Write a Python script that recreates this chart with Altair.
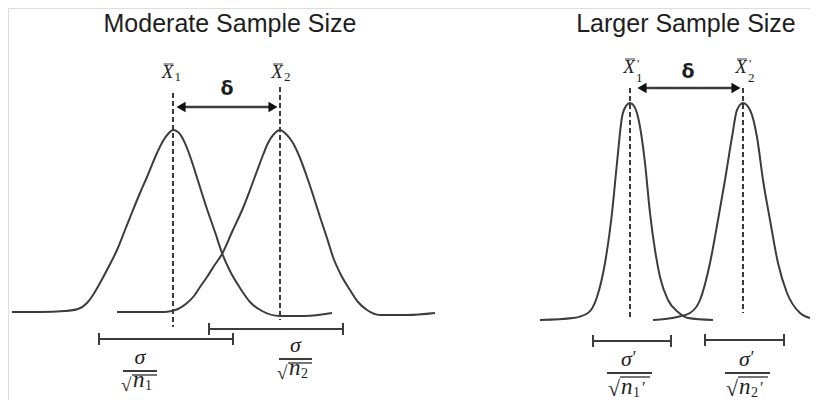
import altair as alt
import pandas as pd

# ---- curve points (pixel-like coordinates, y down) ----
L1_x = [12, 40, 65, 78, 87, 93, 100, 108, 117, 125, 133, 140, 147, 157, 163, 168, 173,
        178, 183, 187, 191, 199, 207, 215, 222, 230, 240, 250, 262, 280, 305, 332]
L1_y = [312, 312, 311, 309, 303, 295, 283, 268, 250, 230, 210, 193, 177, 153, 141, 134, 130,
        132, 139, 148, 159, 184, 209, 232, 253, 271, 288, 302, 311, 316, 316, 313]
L2_x = [117, 145, 165, 178, 187, 194, 200, 207, 214, 222, 232, 243, 250, 257, 263, 268, 274, 280,
        286, 293, 300, 307, 314, 320, 327, 333, 341, 350, 358, 367, 380, 407, 435]
L2_y = [312, 312, 312, 309, 303, 296, 287, 277, 266, 254, 232, 208, 190, 171, 155, 143, 134, 130,
        134, 143, 158, 177, 198, 217, 238, 257, 275, 290, 302, 310, 315, 315, 313]
R1_x = [540, 573, 588, 597, 605, 612, 617, 622, 626, 630, 634, 638, 645, 650, 655, 660, 668, 678, 688, 713]
R1_y = [320, 318, 313, 297, 263, 213, 163, 117, 106, 103, 106, 117, 163, 213, 250, 277, 300, 312, 318, 320]
R2_x = [653, 677, 690, 700, 710, 718, 725, 732, 737, 743, 750, 757, 763, 770, 778, 787, 800, 810]
R2_y = [320, 317, 313, 300, 263, 220, 180, 137, 110, 103, 110, 137, 180, 220, 263, 293, 313, 318]

# ---- dashed mean lines: x, y_top, y_bottom ----
mean_x = [173, 280, 630, 743]
mean_top = [93, 87, 88, 88]
mean_bot = [327, 320, 320, 313]

# ---- delta arrows: y, x_start, x_end ----
arrow_y = [107, 88]
arrow_x1 = [176, 637]
arrow_x2 = [278, 741]

# ---- standard error bars: y, x_start, x_end ----
bar_y = [339, 329, 341, 340]
bar_x1 = [99, 209, 593, 705]
bar_x2 = [233, 343, 671, 784]

# ---- fraction labels: centre x, fraction-line y, half width ----
frac_cx = [140, 295.5, 629.5, 747.5]
frac_y = [371, 359, 373, 373]
frac_hw = [17, 16.5, 22.5, 22.5]
frac_prime = [False, False, True, True]
frac_sub = ["1", "2", "1", "2"]

# ---- mean labels ----
mean_lab_x = [167.5, 277, 629, 741]
mean_lab_y = [78, 78, 73, 73]
mean_lab_prime = [False, False, True, True]
mean_lab_sub = ["1", "2", "1", "2"]

titles = ["Moderate Sample Size", "Larger Sample Size"]
title_x = [230, 686]
title_y = [32, 32]
delta_x = [227, 688]
delta_y = [95, 78]

INK = "#3c3c3c"
TXT = "#1e1e1e"

xs = alt.Scale(domain=[8, 810])
ys = alt.Scale(domain=[8, 400], reverse=True)


def X(f="x"):
    return alt.X(f, type="quantitative", scale=xs, axis=None)


def Y(f="y"):
    return alt.Y(f, type="quantitative", scale=ys, axis=None)


# curves
rows = []
for name, cx, cy in [("L1", L1_x, L1_y), ("L2", L2_x, L2_y), ("R1", R1_x, R1_y), ("R2", R2_x, R2_y)]:
    for i, (a, b) in enumerate(zip(cx, cy)):
        rows.append({"curve": name, "i": i, "x": a, "y": b})
curves_df = pd.DataFrame(rows)
curves = alt.Chart(curves_df).mark_line(interpolate="monotone", color=INK, strokeWidth=2).encode(
    x=X(), y=Y(), detail="curve:N", order="i:Q"
)

# solid segments
seg = []
for y, a, b in zip(bar_y, bar_x1, bar_x2):
    seg.append({"x": a, "x2": b, "y": y, "y2": y, "w": 2})
    seg.append({"x": a, "x2": a, "y": y - 6, "y2": y + 6, "w": 2})
    seg.append({"x": b, "x2": b, "y": y - 6, "y2": y + 6, "w": 2})
for y, a, b in zip(arrow_y, arrow_x1, arrow_x2):
    seg.append({"x": a + 6, "x2": b - 6, "y": y, "y2": y, "w": 2.5})
for cx, fy, hw, pr in zip(frac_cx, frac_y, frac_hw, frac_prime):
    left = cx - hw
    seg.append({"x": left, "x2": cx + hw, "y": fy, "y2": fy, "w": 2.2})
    # radical overline
    seg.append({"x": left + (13 if pr else 9), "x2": cx + hw - (2 if pr else 0),
                "y": fy + 4, "y2": fy + 4, "w": 1.4})
for mx, my in zip(mean_lab_x, mean_lab_y):
    seg.append({"x": mx - 4, "x2": mx + 6, "y": my - 14, "y2": my - 14, "w": 1})
seg_df = pd.DataFrame(seg)
solid = alt.Chart(seg_df).mark_rule(color=INK).encode(
    x=X("x"), x2="x2:Q", y=Y("y"), y2="y2:Q", strokeWidth=alt.StrokeWidth("w:Q", scale=None)
)

dash_df = pd.DataFrame({"x": mean_x, "y": mean_top, "y2": mean_bot})
dashed = alt.Chart(dash_df).mark_rule(color=INK, strokeWidth=2, strokeDash=[5, 3]).encode(
    x=X("x"), y=Y("y"), y2="y2:Q"
)

# arrow heads
heads = []
for y, a, b in zip(arrow_y, arrow_x1, arrow_x2):
    heads.append({"x": a + 5, "y": y, "s": "triangle-left"})
    heads.append({"x": b - 5, "y": y, "s": "triangle-right"})
heads_df = pd.DataFrame(heads)
arrowheads = alt.Chart(heads_df).mark_point(filled=True, color="#111", size=110, opacity=1).encode(
    x=X(), y=Y(), shape=alt.Shape("s:N", scale=None)
)

# texts
title_df = pd.DataFrame({"t": titles, "x": title_x, "y": title_y})
title_layer = alt.Chart(title_df).mark_text(
    font="Liberation Sans", fontSize=25, color=TXT, baseline="alphabetic", align="center"
).encode(x=X(), y=Y(), text="t:N")

delta_df = pd.DataFrame({"t": ["δ", "δ"], "x": delta_x, "y": delta_y})
delta_layer = alt.Chart(delta_df).mark_text(
    font="DejaVu Sans", fontSize=19, fontWeight="bold", color=TXT, baseline="alphabetic", align="center"
).encode(x=X(), y=Y(), text="t:N")

ital = []   # italic serif: t, x, y, size, align
norm = []   # regular serif
for mx, my, pr, sb in zip(mean_lab_x, mean_lab_y, mean_lab_prime, mean_lab_sub):
    ital.append({"t": "X", "x": mx, "y": my, "s": 19, "a": "center"})
    norm.append({"t": sb, "x": mx + 7, "y": my + (9 if pr else 3), "s": 13, "a": "left"})
    if pr:
        norm.append({"t": "′", "x": mx + 8, "y": my - 5, "s": 12, "a": "left"})
for cx, fy, hw, pr, sb in zip(frac_cx, frac_y, frac_hw, frac_prime, frac_sub):
    sx = cx - (3 if pr else 0)
    ital.append({"t": "σ", "x": sx, "y": fy - 7, "s": 22, "a": "center"})
    if pr:
        norm.append({"t": "′", "x": sx + 6, "y": fy - 9, "s": 18, "a": "left"})
    left = cx - hw
    norm.append({"t": "√", "x": left + (1 if pr else -2), "y": fy + (23 if pr else 20),
                 "s": 22 if pr else 19, "a": "left"})
    nx = left + (14 if pr else 10)
    ital.append({"t": "n", "x": nx, "y": fy + (21 if pr else 16), "s": 23, "a": "left"})
    norm.append({"t": sb, "x": nx + 12, "y": fy + (24 if pr else 19), "s": 14, "a": "left"})
    if pr:
        norm.append({"t": "′", "x": nx + 21, "y": fy + 20, "s": 16, "a": "left"})
ital_df = pd.DataFrame(ital)
norm_df = pd.DataFrame(norm)


def text_layer(df, style, align):
    d = df[df["a"] == align]
    return alt.Chart(d).mark_text(
        font="Liberation Serif", fontStyle=style, color=TXT, baseline="alphabetic", align=align
    ).encode(x=X(), y=Y(), text="t:N", size=alt.Size("s:Q", scale=None))


layers = [curves, dashed, solid, arrowheads, title_layer, delta_layer]
for df, st in [(ital_df, "italic"), (norm_df, "normal")]:
    for al in ["center", "left"]:
        if (df["a"] == al).any():
            layers.append(text_layer(df, st, al))

chart = alt.layer(*layers).properties(
    width=802, height=392, padding=0, autosize=alt.AutoSizeParams(type="none")
).configure_view(stroke=None).configure(background="white")

chart.save("out.html", embed_options={"renderer": "svg", "actions": False})
